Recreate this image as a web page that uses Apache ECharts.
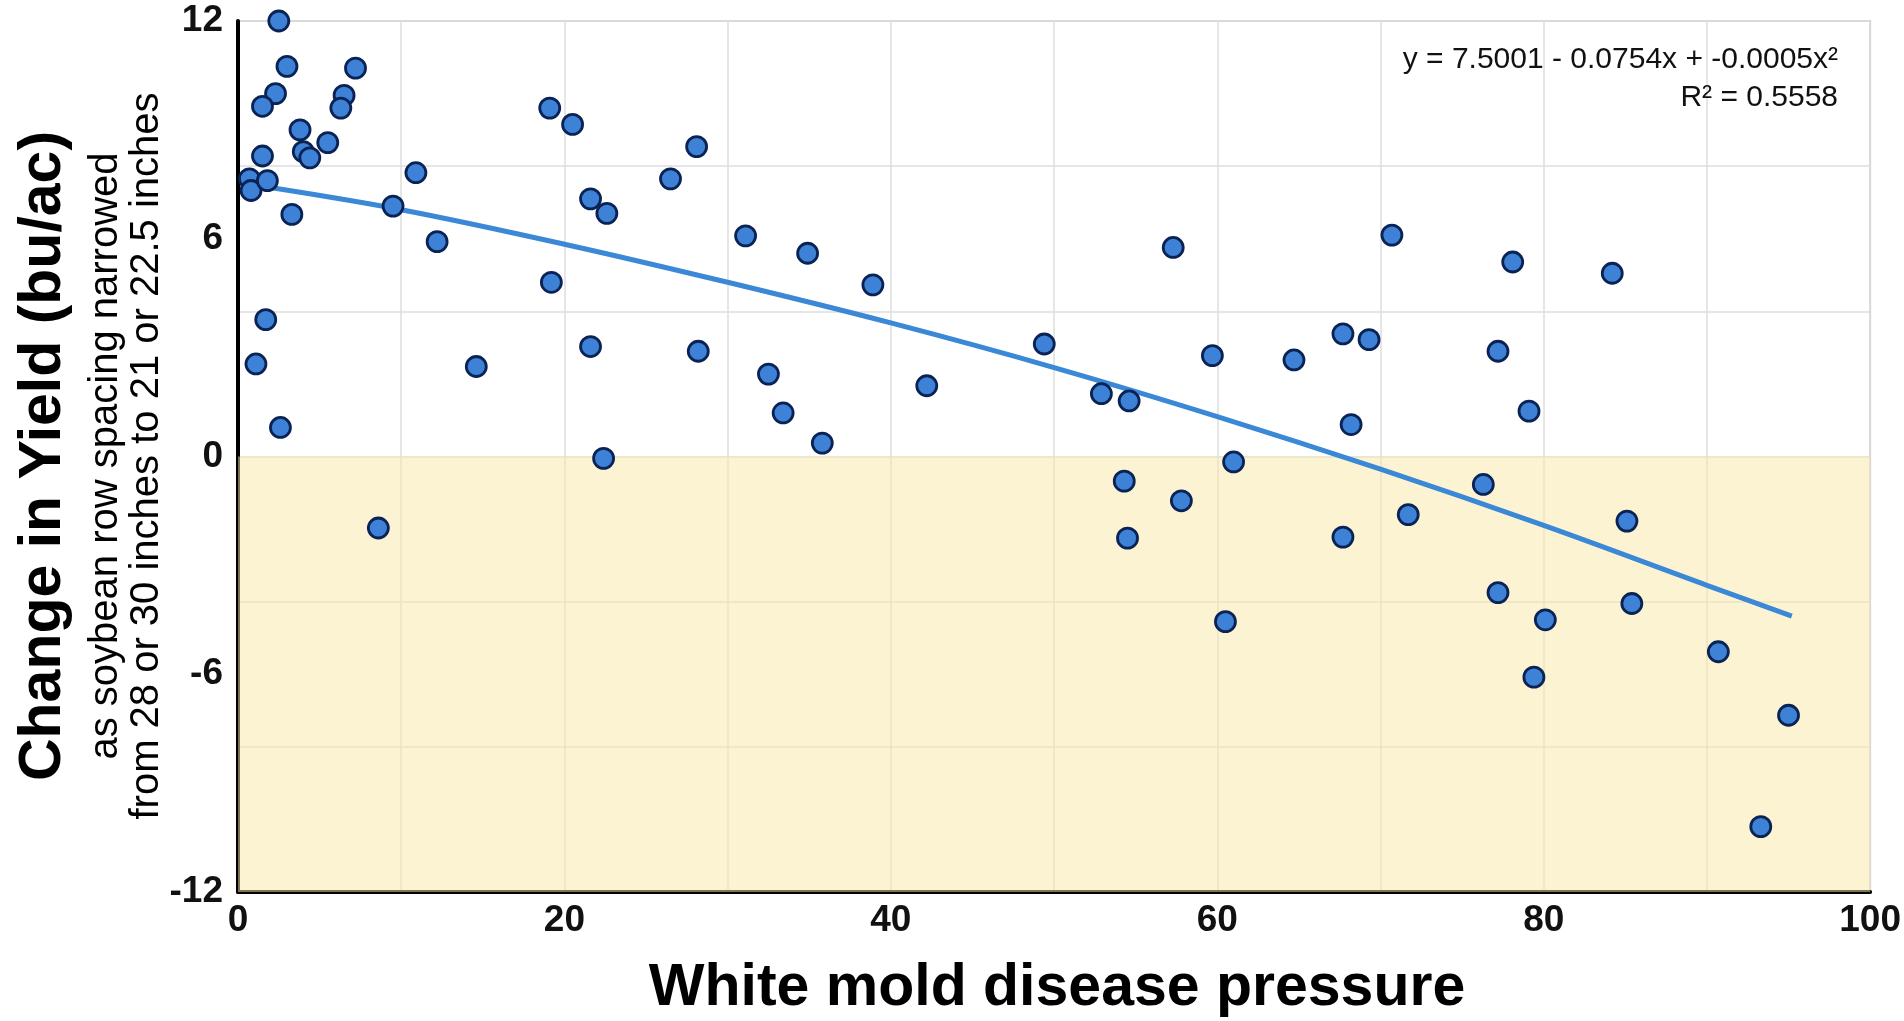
<!DOCTYPE html>
<html>
<head>
<meta charset="utf-8">
<script src="https://cdn.jsdelivr.net/npm/echarts@6/dist/echarts.min.js"></script>
<style>
html,body{margin:0;padding:0;background:#fff;}
#chart{width:1904px;height:1021px;}
</style>
</head>
<body>
<div id="chart"></div>
<script>
// White mold disease pressure (x) and change in yield (y)
const pressure = [2.5, 3.0, 7.2, 2.3, 1.5, 6.5, 6.3, 3.8, 5.5, 4.0, 4.4, 1.5, 0.7, 0.8, 1.8, 3.3, 9.5, 10.9, 12.2, 1.7, 1.1, 2.6, 8.6, 14.6, 19.1, 20.5, 21.6, 22.6, 19.2, 21.6, 22.4, 26.5, 28.1, 28.2, 31.1, 34.9, 38.9, 32.5, 33.4, 35.8, 42.2, 49.4, 52.9, 54.6, 57.3, 59.7, 64.7, 61.0, 54.3, 57.8, 54.5, 60.5, 67.7, 69.3, 70.7, 78.1, 84.2, 77.2, 79.1, 68.2, 76.3, 71.7, 67.7, 85.1, 77.2, 85.4, 80.1, 90.7, 79.4, 95.0, 93.3];
const yieldChange = [12.0, 10.75, 10.7, 10.0, 9.65, 9.95, 9.6, 9.0, 8.65, 8.4, 8.23, 8.28, 7.65, 7.33, 7.6, 6.67, 6.9, 7.82, 5.92, 3.77, 2.55, 0.8, -1.97, 2.48, 9.6, 9.15, 7.1, 6.7, 4.8, 3.03, -0.05, 7.65, 8.54, 2.9, 6.08, 5.6, 4.73, 2.27, 1.2, 0.37, 1.95, 3.1, 1.73, 1.53, 5.76, 2.78, 2.66, -0.15, -0.68, -1.22, -2.25, -4.55, 3.38, 3.22, 6.1, 5.36, 5.05, 2.9, 1.25, 0.88, -0.77, -1.6, -2.22, -1.78, -3.75, -4.05, -4.5, -5.38, -6.08, -7.13, -10.2];

// Trend curve
const trendX = [0.7, 10, 20, 30, 40, 50, 60, 70, 80, 90, 95.2];
const trendY = [7.5, 6.8, 5.85, 4.8, 3.68, 2.45, 1.1, -0.35, -1.9, -3.55, -4.4];

// Axis ticks
const xTicks = [0, 20, 40, 60, 80, 100];
const yTicks = [-12, -6, 0, 6, 12];

const equationText = 'y = 7.5001 - 0.0754x + -0.0005x\u00B2';
const r2Text = 'R\u00B2 = 0.5558';
const xTitle = 'White mold disease pressure';
const yTitle = 'Change in Yield (bu/ac)';
const ySub1 = 'as soybean row spacing narrowed';
const ySub2 = 'from 28 or 30 inches to 21 or 22.5 inches';

const FONT = '"Liberation Sans", Arial, Helvetica, sans-serif';

const points = pressure.map((x, i) => [x, yieldChange[i]]);
const trend = trendX.map((x, i) => [x, trendY[i]]);

const chart = echarts.init(document.getElementById('chart'), null, {renderer: 'canvas'});

chart.setOption({
  backgroundColor: '#ffffff',
  animation: false,
  grid: {
    left: 238, right: 27, top: 21, bottom: 129,
    show: true, borderColor: '#c9c9c9', borderWidth: 2, backgroundColor: 'transparent'
  },
  xAxis: {
    type: 'value', min: 0, max: 100, interval: 10,
    axisLine: {show: true, onZero: false, lineStyle: {color: '#000', width: 4}},
    axisTick: {show: false},
    splitLine: {show: true, lineStyle: {color: '#dedede', width: 1.5}},
    axisLabel: {
      fontFamily: FONT, fontWeight: 'bold', fontSize: 37, color: '#111', margin: 10,
      formatter: v => (xTicks.indexOf(v) >= 0 ? String(v) : '')
    }
  },
  yAxis: [
    {
      type: 'value', min: -12, max: 12, interval: 6,
      axisLine: {show: true, onZero: false, lineStyle: {color: '#000', width: 4}},
      axisTick: {show: false},
      splitLine: {show: false},
      axisLabel: {
        fontFamily: FONT, fontWeight: 'bold', fontSize: 37, color: '#111', margin: 15,
        formatter: v => (yTicks.indexOf(v) >= 0 ? String(v) : '')
      }
    },
    {
      type: 'value', min: -12, max: 12, interval: 4, position: 'left',
      axisLine: {show: false}, axisTick: {show: false}, axisLabel: {show: false},
      splitLine: {show: true, lineStyle: {color: '#dedede', width: 1.5}}
    }
  ],
  series: [
    {
      type: 'line',
      data: trend,
      smooth: 0.35,
      symbol: 'none',
      lineStyle: {color: '#3a88d6', width: 5},
      z: 3,
      markArea: {
        silent: true,
        itemStyle: {color: 'rgba(250, 232, 168, 0.5)'},
        data: [[{yAxis: 0}, {yAxis: -12}]]
      }
    },
    {
      type: 'scatter',
      data: points,
      clip: false,
      symbol: 'circle',
      symbolSize: 20,
      itemStyle: {color: '#3d82d6', borderColor: '#0b2354', borderWidth: 2.8, opacity: 1},
      z: 4
    }
  ],
  graphic: [
    {
      type: 'text', x: 1838, y: 60, z: 10,
      style: {text: equationText, fontFamily: FONT, fontSize: 30, fill: '#111', align: 'right', verticalAlign: 'middle'}
    },
    {
      type: 'text', x: 1838, y: 98, z: 10,
      style: {text: r2Text, fontFamily: FONT, fontSize: 30, fill: '#111', align: 'right', verticalAlign: 'middle'}
    },
    {
      type: 'text', x: 1057, y: 989, z: 10,
      style: {text: xTitle, fontFamily: FONT, fontWeight: 'bold', fontSize: 59, fill: '#000', align: 'center', verticalAlign: 'middle'}
    },
    {
      type: 'text', x: 44, y: 456, rotation: Math.PI / 2, z: 10,
      style: {text: yTitle, fontFamily: FONT, fontWeight: 'bold', fontSize: 59, fill: '#000', align: 'center', verticalAlign: 'middle'}
    },
    {
      type: 'text', x: 106, y: 456, rotation: Math.PI / 2, z: 10,
      style: {text: ySub1, fontFamily: FONT, fontSize: 40, fill: '#000', align: 'center', verticalAlign: 'middle'}
    },
    {
      type: 'text', x: 147, y: 456, rotation: Math.PI / 2, z: 10,
      style: {text: ySub2, fontFamily: FONT, fontSize: 40, fill: '#000', align: 'center', verticalAlign: 'middle'}
    }
  ]
});
</script>
</body>
</html>
